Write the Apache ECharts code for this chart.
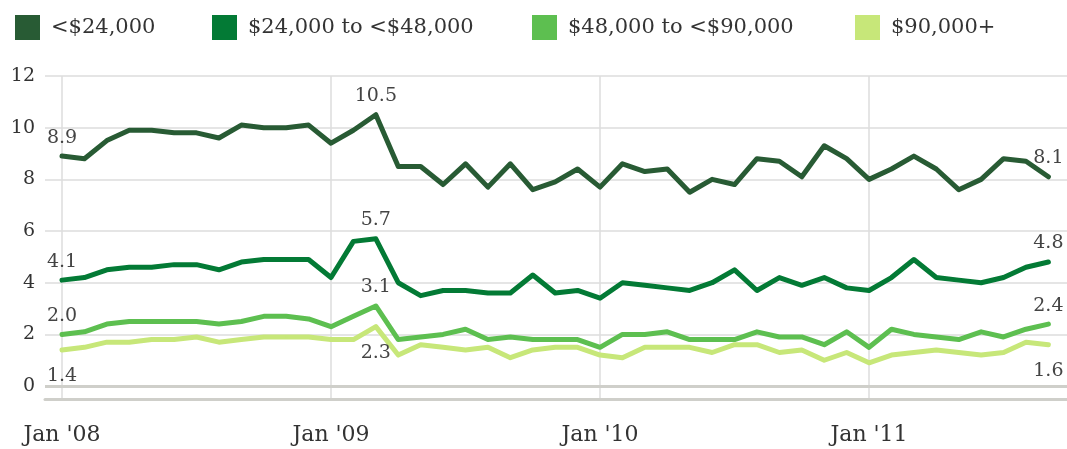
<!DOCTYPE html>
<html>
<head>
<meta charset="utf-8">
<title>Income groups, monthly</title>
<script src="https://cdn.jsdelivr.net/npm/echarts@6/dist/echarts.min.js"></script>
<style>
  html, body { margin: 0; padding: 0; background: #ffffff; }
  #chart { width: 1067px; height: 449px; }
</style>
</head>
<body>
<div id="chart"></div>
<script>
// Monthly periods, Jan 2008 to Sep 2011
const months = [
  "Jan '08", "Feb '08", "Mar '08", "Apr '08", "May '08", "Jun '08", "Jul '08", "Aug '08", "Sep '08", "Oct '08", "Nov '08", "Dec '08",
  "Jan '09", "Feb '09", "Mar '09", "Apr '09", "May '09", "Jun '09", "Jul '09", "Aug '09", "Sep '09", "Oct '09", "Nov '09", "Dec '09",
  "Jan '10", "Feb '10", "Mar '10", "Apr '10", "May '10", "Jun '10", "Jul '10", "Aug '10", "Sep '10", "Oct '10", "Nov '10", "Dec '10",
  "Jan '11", "Feb '11", "Mar '11", "Apr '11", "May '11", "Jun '11", "Jul '11", "Aug '11", "Sep '11"
];

const seriesNames = ['<$24,000', '$24,000 to <$48,000', '$48,000 to <$90,000', '$90,000+'];

const under24k = [8.9, 8.8, 9.5, 9.9, 9.9, 9.8, 9.8, 9.6, 10.1, 10.0, 10.0, 10.1,
  9.4, 9.9, 10.5, 8.5, 8.5, 7.8, 8.6, 7.7, 8.6, 7.6, 7.9, 8.4,
  7.7, 8.6, 8.3, 8.4, 7.5, 8.0, 7.8, 8.8, 8.7, 8.1, 9.3, 8.8,
  8.0, 8.4, 8.9, 8.4, 7.6, 8.0, 8.8, 8.7, 8.1];

const from24kTo48k = [4.1, 4.2, 4.5, 4.6, 4.6, 4.7, 4.7, 4.5, 4.8, 4.9, 4.9, 4.9,
  4.2, 5.6, 5.7, 4.0, 3.5, 3.7, 3.7, 3.6, 3.6, 4.3, 3.6, 3.7,
  3.4, 4.0, 3.9, 3.8, 3.7, 4.0, 4.5, 3.7, 4.2, 3.9, 4.2, 3.8,
  3.7, 4.2, 4.9, 4.2, 4.1, 4.0, 4.2, 4.6, 4.8];

const from48kTo90k = [2.0, 2.1, 2.4, 2.5, 2.5, 2.5, 2.5, 2.4, 2.5, 2.7, 2.7, 2.6,
  2.3, 2.7, 3.1, 1.8, 1.9, 2.0, 2.2, 1.8, 1.9, 1.8, 1.8, 1.8,
  1.5, 2.0, 2.0, 2.1, 1.8, 1.8, 1.8, 2.1, 1.9, 1.9, 1.6, 2.1,
  1.5, 2.2, 2.0, 1.9, 1.8, 2.1, 1.9, 2.2, 2.4];

const over90k = [1.4, 1.5, 1.7, 1.7, 1.8, 1.8, 1.9, 1.7, 1.8, 1.9, 1.9, 1.9,
  1.8, 1.8, 2.3, 1.2, 1.6, 1.5, 1.4, 1.5, 1.1, 1.4, 1.5, 1.5,
  1.2, 1.1, 1.5, 1.5, 1.5, 1.3, 1.6, 1.6, 1.3, 1.4, 1.0, 1.3,
  0.9, 1.2, 1.3, 1.4, 1.3, 1.2, 1.3, 1.7, 1.6];

const yTicks = [0, 2, 4, 6, 8, 10, 12];
const xTicks = [0, 12, 24, 36];          // January of each year
const labeledPoints = [0, 14, 44];       // first, peak and latest month

const allSeries = [under24k, from24kTo48k, from48kTo90k, over90k];
const colors = ['#285b34', '#037a35', '#5dbf50', '#c7e779'];
const font = 'DejaVu Serif';
const textColor = '#333333';

const chart = echarts.init(document.getElementById('chart'), null, { renderer: 'canvas' });

const legendLeft = [10, 207, 527, 850];

const option = {
  animation: false,
  backgroundColor: '#ffffff',
  grid: { left: 45, right: 0, top: 76, bottom: 50, containLabel: false, outerBoundsMode: 'none' },
  legend: seriesNames.map((name, k) => ({
    data: [name],
    left: legendLeft[k],
    top: 10,
    icon: 'rect',
    itemWidth: 25,
    itemHeight: 25,
    selectedMode: false,
    textStyle: { fontFamily: font, fontSize: 21, color: textColor, padding: [0, 0, 0, 6] }
  })),
  xAxis: {
    type: 'value',
    min: -0.758,
    max: 44.83,
    axisLine: { show: true, onZero: false, lineStyle: { color: '#cfcfca', width: 3 } },
    axisTick: { show: false, customValues: xTicks },
    axisLabel: {
      customValues: xTicks,
      formatter: v => months[Math.round(v)],
      fontFamily: font, fontSize: 22, color: textColor, margin: 25
    },
    splitLine: { show: true, lineStyle: { color: '#dcdcdc', width: 1.5 } }
  },
  yAxis: {
    type: 'value',
    min: -0.5,
    max: 12,
    axisLine: { show: false },
    axisTick: { show: false, customValues: yTicks },
    axisLabel: { customValues: yTicks, fontFamily: font, fontSize: 19, color: textColor, margin: 10 },
    splitLine: { show: true, lineStyle: { color: '#dcdcdc', width: 1.5 } }
  },
  series: allSeries.map((values, k) => ({
    name: seriesNames[k],
    type: 'line',
    symbol: 'circle',
    symbolSize: 2,
    showSymbol: true,
    itemStyle: { color: colors[k] },
    lineStyle: { color: colors[k], width: 5, cap: 'round', join: 'round' },
    emphasis: { disabled: true },
    silent: true,
    label: {
      show: false,
      position: k === 3 ? 'bottom' : 'top',
      distance: k === 3 ? 16 : 8,
      fontFamily: font,
      fontSize: 19,
      color: '#444444',
      formatter: p => p.value[1].toFixed(1)
    },
    data: values.map((v, i) => labeledPoints.includes(i)
      ? { value: [i, v], label: { show: true } }
      : { value: [i, v] }),
    markLine: k === 3 ? {
      silent: true,
      symbol: 'none',
      label: { show: false },
      lineStyle: { color: '#cfcfca', width: 3, type: 'solid' },
      data: [{ yAxis: 0 }]
    } : undefined
  }))
};

chart.setOption(option);
</script>
</body>
</html>
